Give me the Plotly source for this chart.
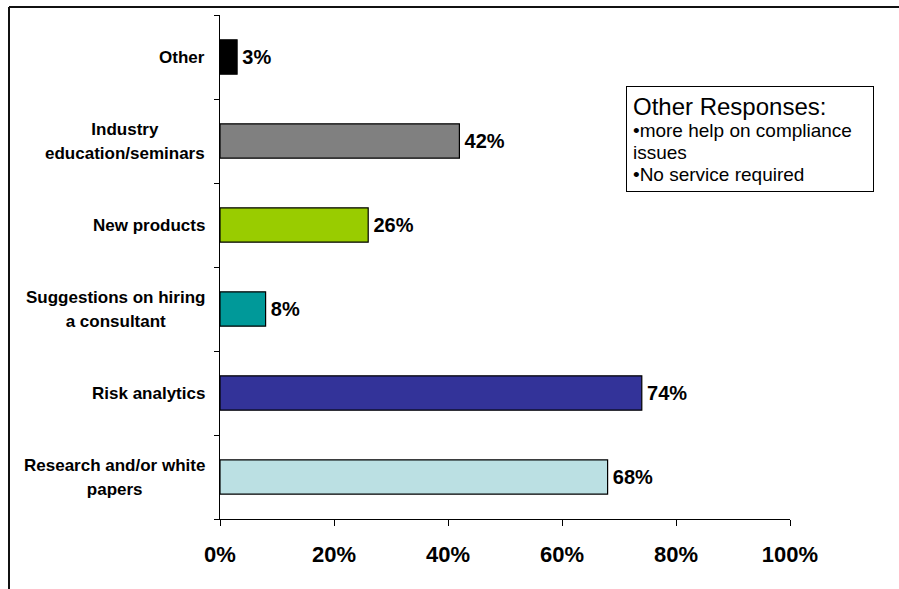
import plotly.graph_objects as go

# Survey responses, listed top to bottom
categories = [
    "Other",
    "Industry<br>education/seminars",
    "New products",
    "Suggestions on hiring<br>a consultant",
    "Risk analytics",
    "Research and/or white<br>papers",
]
values = [3, 42, 26, 8, 74, 68]
bar_colors = ["#000000", "#808080", "#99CC00", "#009999", "#333399", "#BBE0E3"]
x_ticks = [0, 20, 40, 60, 80, 100]
x_tick_labels = ["0%", "20%", "40%", "60%", "80%", "100%"]

W, H = 899, 589
L, R, T, B = 220, 109, 15, 70
pw, ph = W - L - R, H - T - B
FONT = "Liberation Sans, Arial, sans-serif"

fig = go.Figure()
fig.add_trace(go.Bar(
    y=list(range(len(categories))),
    x=values,
    orientation="h",
    marker=dict(color=bar_colors, line=dict(color="#000000", width=1.2)),
    width=0.41,
    text=[f"{v}%" for v in values],
    textposition="outside",
    textfont=dict(family=FONT, size=20, color="#000000"),
    texttemplate="<span style='font-size:11px'>\u2009</span><b>%{text}</b>",
    cliponaxis=False,
    hoverinfo="skip",
))

# Category labels, centred line by line, right-aligned against the axis
for i, c in enumerate(categories):
    fig.add_annotation(
        x=0, xref="paper", xanchor="right", xshift=-13,
        y=i, yref="y", yanchor="middle",
        text=f"<span style='font-size:17px'><b>{c}</b></span>",
        align="center", showarrow=False,
        font=dict(family=FONT, size=18.5, color="#000000"),
    )

# Note box with the free-text answers
fig.add_annotation(
    x=(626 - L) / pw, xref="paper", xanchor="left",
    y=1 - (86 - T) / ph, yref="paper", yanchor="top",
    text=("<span style='font-size:24px'>Other Responses:</span><br>"
          "<span style='font-size:19px'>•more help on compliance<br>"
          "issues<br>•No service required</span>"),
    align="left", showarrow=False,
    bordercolor="#000000", borderwidth=1, borderpad=6, bgcolor="#FFFFFF",
    width=234,
    font=dict(family=FONT, size=17, color="#000000"),
)

# Outer frame edges (top and left)
fx0 = (9 - L) / pw
fy0 = 1 + (T - 7) / ph
fig.add_shape(type="line", xref="paper", yref="paper", x0=fx0, x1=(W + 5 - L) / pw,
              y0=fy0, y1=fy0, line=dict(color="#111111", width=2))
fig.add_shape(type="line", xref="paper", yref="paper", x0=fx0, x1=fx0,
              y0=fy0, y1=-(B + 5) / ph, line=dict(color="#111111", width=2))

fig.update_layout(
    width=W, height=H,
    margin=dict(l=L, r=R, t=T, b=B),
    paper_bgcolor="#FFFFFF", plot_bgcolor="#FFFFFF",
    showlegend=False,
    xaxis=dict(
        range=[0, 100], tickvals=x_ticks, ticktext=x_tick_labels,
        showgrid=False, zeroline=False,
        showline=True, linecolor="#000000", linewidth=1.2,
        ticks="outside", ticklen=6, tickcolor="#000000", tickwidth=1.2,
        ticklabelstandoff=9,
        tickfont=dict(family=FONT, size=22, color="#000000", weight="bold"),
        fixedrange=True,
    ),
    yaxis=dict(
        range=[len(categories) - 0.5, -0.5],
        tickvals=[i + 0.5 for i in range(-1, len(categories))],
        showticklabels=False,
        showgrid=False, zeroline=False,
        showline=True, linecolor="#000000", linewidth=1.2,
        ticks="outside", ticklen=5, tickcolor="#000000", tickwidth=1.2,
        fixedrange=True,
    ),
)

fig.write_html("out.html")
